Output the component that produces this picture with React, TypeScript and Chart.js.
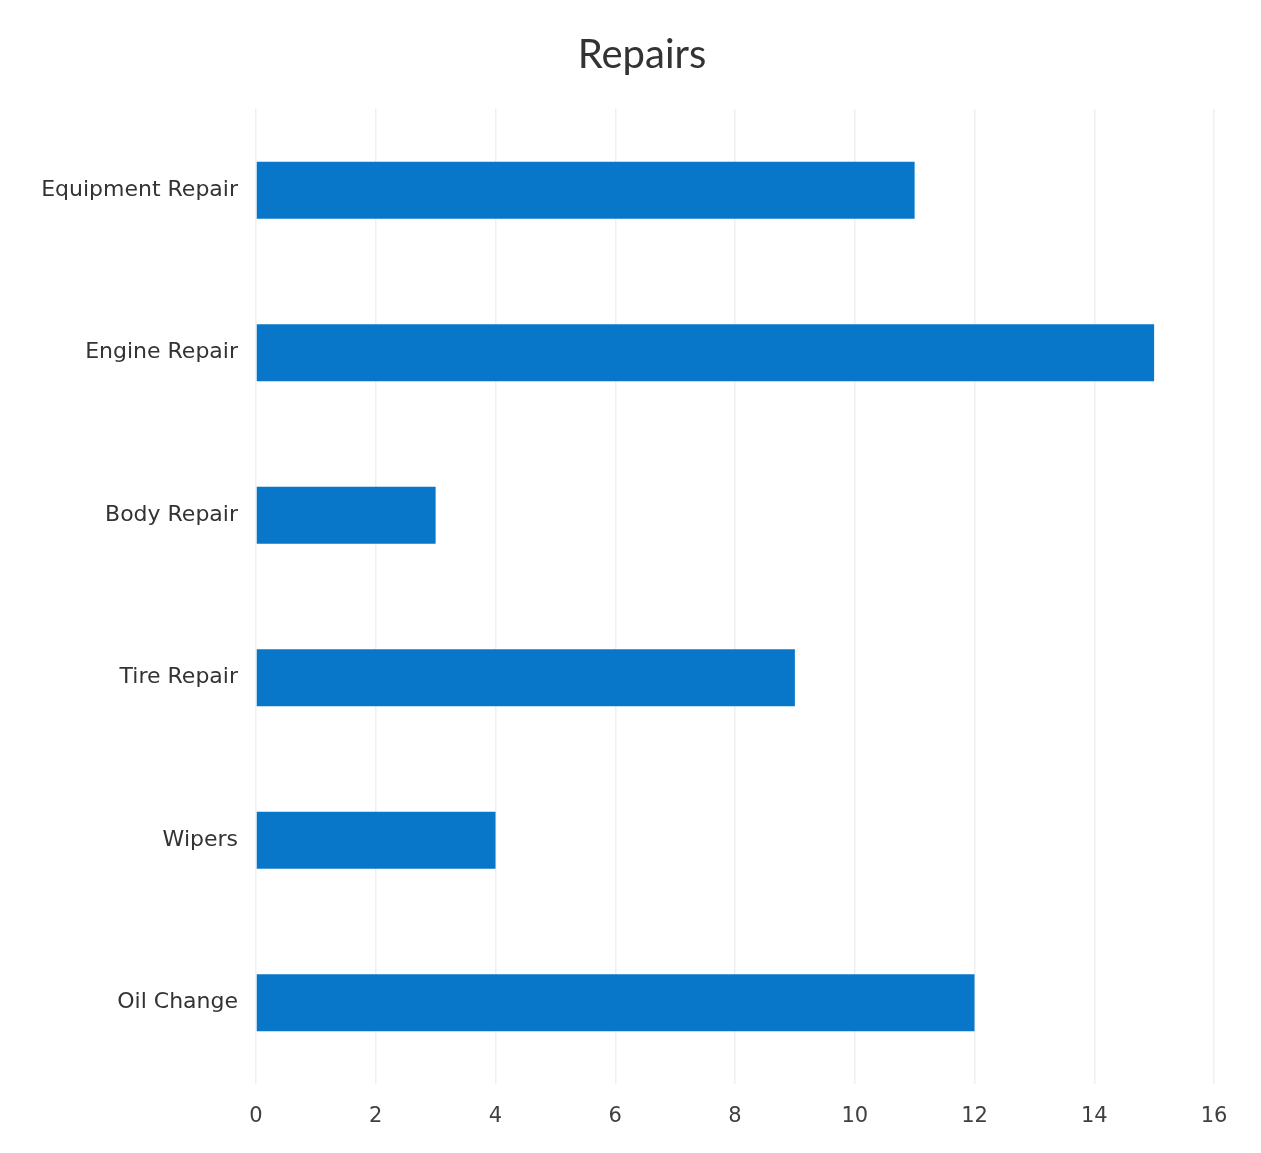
import React, { useEffect, useRef } from "react";
import { Chart, registerables } from "chart.js";

Chart.register(...registerables);

const titleText = "Repairs";
const categories = ["Equipment Repair", "Engine Repair", "Body Repair", "Tire Repair", "Wipers", "Oil Change"];
const repairCounts = [11, 15, 3, 9, 4, 12];
const xMin = 0;
const xMax = 16;
const xStep = 2;

const titlePlugin = {
  id: "centeredTitle",
  afterDraw(chart: any) {
    const ctx = chart.ctx;
    ctx.save();
    ctx.font = "40px Lato";
    ctx.fillStyle = "#333333";
    ctx.textAlign = "center";
    ctx.textBaseline = "middle";
    ctx.fillText(titleText, 642, 55);
    ctx.restore();
  },
};

export default function App() {
  const ref = useRef<HTMLCanvasElement | null>(null);
  useEffect(() => {
    if (!ref.current) return;
    const chart = new Chart(ref.current, {
      type: "bar",
      data: {
        labels: categories,
        datasets: [
          {
            label: titleText,
            data: repairCounts,
            backgroundColor: "#0977c9",
            borderWidth: 0,
            barPercentage: 0.35,
            categoryPercentage: 1,
          },
        ],
      },
      plugins: [titlePlugin],
      options: {
        indexAxis: "y",
        animation: false,
        responsive: false,
        maintainAspectRatio: false,
        layout: { padding: { left: 0, right: 47, top: 109, bottom: 0 } },
        plugins: {
          legend: { display: false },
          tooltip: { enabled: false },
          title: { display: false },
        },
        scales: {
          x: {
            min: xMin,
            max: xMax,
            ticks: {
              stepSize: xStep,
              color: "#404040",
              font: { family: "DejaVu Sans", size: 21 },
              padding: 20,
            },
            grid: { color: "#efefef", lineWidth: 1.5, drawTicks: false },
            border: { display: false },
            afterFit: (s: any) => {
              s.height = 69;
            },
          },
          y: {
            ticks: {
              color: "#333333",
              font: { family: "DejaVu Sans", size: 22 },
              padding: 18,
            },
            grid: { display: false, drawTicks: false },
            border: { display: false },
            afterFit: (s: any) => {
              s.width = 256;
            },
          },
        },
      },
    });
    return () => chart.destroy();
  }, []);
  return (
    <div style={{ position: "fixed", left: 0, top: 0, width: 1261, height: 1153, background: "#ffffff" }}>
      <canvas ref={ref} width={1261} height={1153} style={{ width: 1261, height: 1153 }} />
    </div>
  );
}
